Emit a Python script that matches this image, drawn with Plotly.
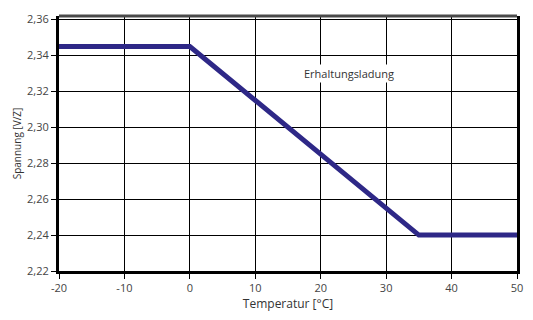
import plotly.graph_objects as go

# Ladekennlinie: Erhaltungsladung über Temperatur
temp = [-20, 0, 35, 50]
spannung = [2.345, 2.345, 2.24, 2.24]

x_ticks = [-20, -10, 0, 10, 20, 30, 40, 50]
x_labels = ["-20", "-10", "0", "10", "20", "30", "40", "50"]
y_ticks = [2.22, 2.24, 2.26, 2.28, 2.30, 2.32, 2.34, 2.36]
y_labels = ["2,22", "2,24", "2,26", "2,28", "2,30", "2,32", "2,34", "2,36"]

fig = go.Figure()

fig.add_trace(go.Scatter(
    x=temp, y=spannung, mode="lines",
    line=dict(color="#2e2887", width=5),
    showlegend=False, hoverinfo="skip"))

fig.add_annotation(
    x=24.3, y=2.330, text="Erhaltungsladung", showarrow=False,
    font=dict(size=11, color="#333333"), bgcolor="white")

# oberer Rahmen etwas heller als die übrigen
fig.add_shape(type="line", xref="paper", yref="paper", x0=0, x1=1, y0=1, y1=1,
              line=dict(color="#4a4a4a", width=3))

axis_style = dict(
    showgrid=True, gridcolor="black", gridwidth=1,
    showline=True, linecolor="black", linewidth=3,
    ticks="outside", ticklen=5, tickcolor="black",
    tickfont=dict(size=11, color="#444444"), zeroline=False)

fig.update_xaxes(range=[-20, 50], tickvals=x_ticks, ticktext=x_labels, mirror=False,
                 title=dict(text="Temperatur [°C]", font=dict(size=12, color="#333333"), standoff=6),
                 **axis_style)
fig.update_yaxes(range=[2.22, 2.362], tickvals=y_ticks, ticktext=y_labels, mirror=True,
                 title=dict(text="Spannung [V/Z]", font=dict(size=10, color="#333333"), standoff=4),
                 **axis_style)

fig.update_layout(
    width=533, height=320,
    margin=dict(l=59, r=10, t=16, b=40),
    plot_bgcolor="white", paper_bgcolor="white",
    font=dict(family="Open Sans, sans-serif"))

# Seitenrand entfernen, damit das Bild genau ins Fenster passt
page_fix = ("document.body.style.margin='0';"
            "document.body.style.overflow='hidden';"
            "document.documentElement.style.overflow='hidden';")
fig.write_html("out.html", config={"displayModeBar": False}, post_script=page_fix)
